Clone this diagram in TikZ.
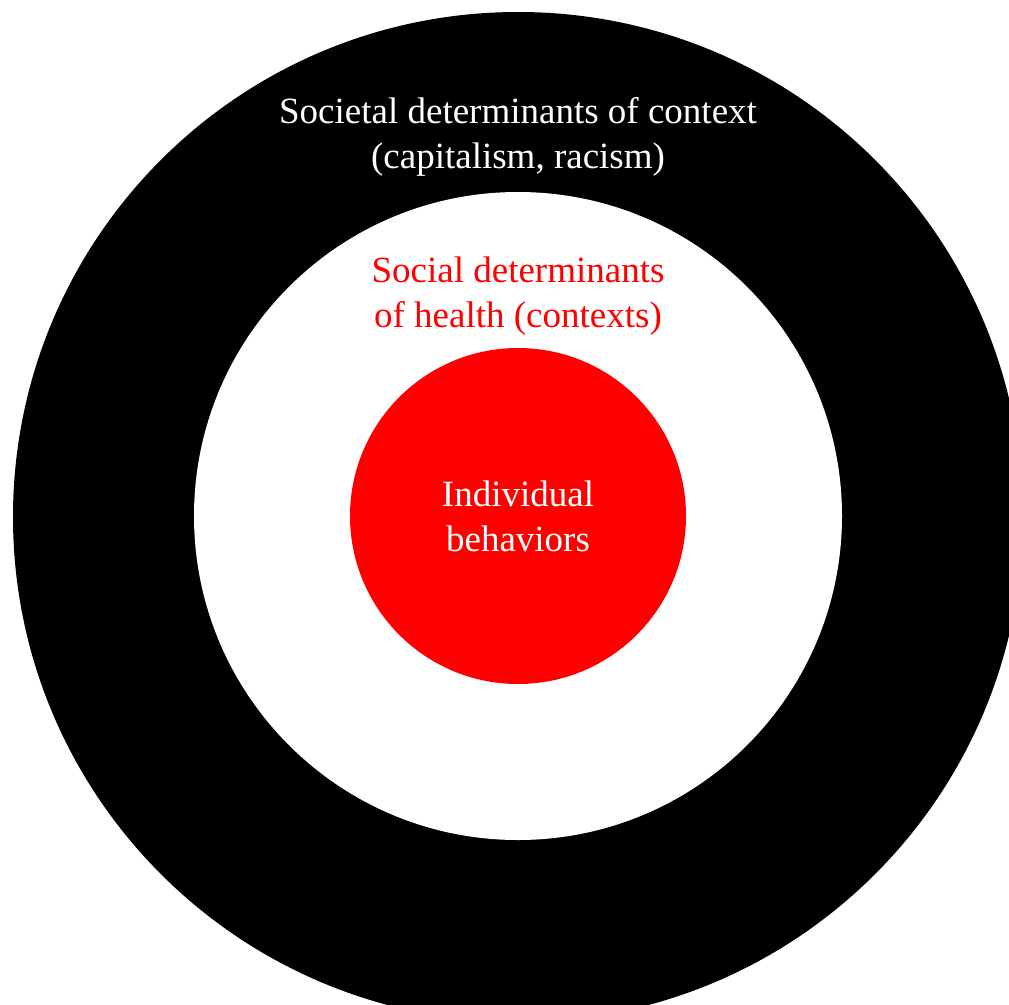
\documentclass[tikz,border=0pt]{standalone}
\usepackage{fontspec}
\setmainfont{Liberation Serif}
\definecolor{myred}{RGB}{255,0,0}
\begin{document}
\begin{tikzpicture}[x=1pt,y=-1pt,
  lbl/.style={align=center,inner sep=0pt,font=\fontsize{37}{45}\selectfont}]
\useasboundingbox (0,0) rectangle (1009,1004);
\clip (0,0) rectangle (1009,1004);
\fill[white] (0,0) rectangle (1009,1004);
\fill[black] (518,517) circle (505);
\fill[white] (518,516) circle (324);
\fill[myred] (518,516) circle (168);
\node[lbl,text=white] (outer) at (518,137) {Societal determinants of context\\(capitalism, racism)};
\node[lbl,text=myred] (mid) at (518,296) {Social determinants\\of health (contexts)};
\node[lbl,text=white] (inner) at (518,516) {Individual\\behaviors};
\end{tikzpicture}
\end{document}
